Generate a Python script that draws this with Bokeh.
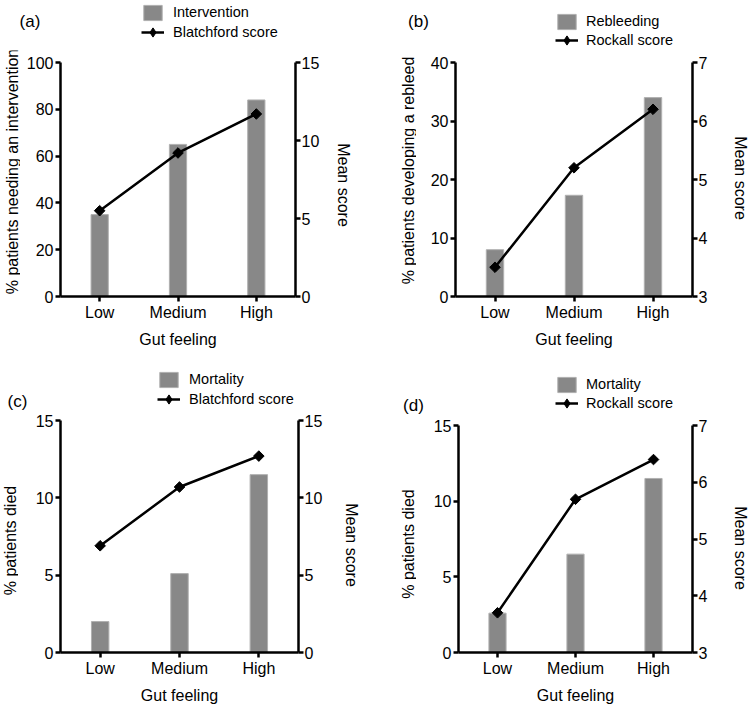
import numpy as np
from bokeh.plotting import figure
from bokeh.models import (Range1d, LinearAxis, FixedTicker, Legend, LegendItem, Label)
from bokeh.layouts import column, row
from bokeh.embed import file_html
from bokeh.resources import INLINE

# ---- data ----
categories = ["Low", "Medium", "High"]
intervention_pct = [35, 65, 84]
blatchford_a = [5.5, 9.2, 11.7]
rebleed_pct = [8, 17.3, 34]
rockall_b = [3.5, 5.2, 6.2]
mortality_c = [2.0, 5.1, 11.5]
blatchford_c = [6.9, 10.7, 12.7]
mortality_d = [2.6, 6.5, 11.5]
rockall_d = [3.7, 5.7, 6.4]

ticks_a_left = [0, 20, 40, 60, 80, 100]
ticks_blatchford = [0, 5, 10, 15]
ticks_b_left = [0, 10, 20, 30, 40]
ticks_rockall = [3, 4, 5, 6, 7]
ticks_died = [0, 5, 10, 15]

FONT = "Liberation Sans"
BAR = "#888888"
BAR_EDGE = "#b0b0b0"
PANEL_W = 374


def blank(width, height):
    f = figure(width=width, height=height, x_range=Range1d(0, width),
               y_range=Range1d(0, height), x_axis_location=None, y_axis_location=None,
               min_border=0, output_backend="svg", toolbar_location=None,
               frame_align=False)
    f.outline_line_color = None
    f.grid.visible = False
    return f


def style_axis(ax, label_standoff, tick_standoff=2, ticks=None):
    if ticks is not None:
        ax.ticker = FixedTicker(ticks=ticks)
    ax.axis_line_width = 2.5
    ax.axis_line_color = "black"
    ax.major_tick_line_width = 2.5
    ax.major_tick_line_color = "black"
    ax.major_tick_in = 0
    ax.major_tick_out = 5
    ax.minor_tick_line_color = None
    ax.major_label_text_font = FONT
    ax.major_label_text_font_size = "16px"
    ax.major_label_text_color = "black"
    ax.major_label_standoff = tick_standoff
    ax.axis_label_text_font = FONT
    ax.axis_label_text_font_size = "16px"
    ax.axis_label_text_font_style = "normal"
    ax.axis_label_text_color = "black"
    ax.axis_label_standoff = label_standoff


def header(letter, height, bars, scores, bar_name, score_name,
           leg_x, row1_y, row2_y, standoff, letter_xy):
    h = blank(PANEL_W, height)
    idx = list(range(len(categories)))
    # hidden copies of the series: they only supply the legend swatches
    vb = h.vbar(x=idx, top=bars, width=0.22, fill_color=BAR, line_color=BAR_EDGE,
                line_width=1, visible=False)
    ln = h.line(x=idx, y=scores, line_color="black", line_width=2.5, visible=False)
    sc = h.scatter(x=idx, y=scores, marker="diamond", size=9,
                   fill_color="black", line_color="black", visible=False)
    common = dict(padding=0, margin=0, spacing=0, label_height=20,
                  label_standoff=standoff, border_line_color=None,
                  background_fill_alpha=0, inactive_fill_alpha=0,
                  label_text_font=FONT, label_text_font_size="14.5px",
                  label_text_color="black")
    h.add_layout(Legend(items=[LegendItem(label=bar_name, renderers=[vb])],
                        location=(leg_x, row1_y), glyph_width=23, glyph_height=19, **common))
    h.add_layout(Legend(items=[LegendItem(label=score_name, renderers=[ln, sc])],
                        location=(leg_x, row2_y), glyph_width=23, glyph_height=26, **common))
    h.add_layout(Label(x=letter_xy[0], y=letter_xy[1], x_units="screen", y_units="screen",
                       text=letter, text_font=FONT, text_font_size="17px",
                       text_align="center", text_baseline="middle", text_color="black"))
    return h


def side_title(width, height, text, x, y, angle):
    f = blank(width, height)
    f.add_layout(Label(x=x, y=y, x_units="screen", y_units="screen", text=text,
                       angle=angle, text_font=FONT, text_font_size="16px",
                       text_align="center", text_baseline="middle", text_color="black"))
    return f


def main(width, height, borders, left_rng, left_ticks, right_rng, right_ticks, bars, scores):
    bl, br, bt, bb = borders
    p = figure(x_range=categories, y_range=Range1d(*left_rng), width=width, height=height,
               output_backend="svg", toolbar_location=None, frame_align=False,
               min_border_left=bl, min_border_right=br, min_border_top=bt,
               min_border_bottom=bb)
    p.outline_line_color = None
    p.xgrid.grid_line_color = None
    p.ygrid.grid_line_color = None
    p.extra_y_ranges = {"score": Range1d(*right_rng)}

    p.vbar(x=categories, top=bars, width=0.22, fill_color=BAR,
           line_color=BAR_EDGE, line_width=1)
    p.line(x=categories, y=scores, y_range_name="score",
           line_color="black", line_width=2.5)
    p.scatter(x=categories, y=scores, y_range_name="score", marker="square",
              angle=np.pi / 4, size=7.5, fill_color="black", line_color="black")

    style_axis(p.yaxis[0], 0, ticks=left_ticks)
    style_axis(p.xaxis[0], 7, tick_standoff=2)
    p.xaxis[0].axis_label = "Gut feeling"

    rax = LinearAxis(y_range_name="score")
    style_axis(rax, 0, tick_standoff=1, ticks=right_ticks)
    p.add_layout(rax, "right")
    return p


def build(letter, H, main_h, lw, mw, rw, borders, left_rng, left_ticks, left_label,
          right_rng, right_ticks, bars, scores, bar_name, score_name,
          leg_x, row1_y, row2_y, standoff, letter_xy, left_xy, right_xy):
    hd = header(letter, H, bars, scores, bar_name, score_name,
                leg_x, row1_y, row2_y, standoff, letter_xy)
    lt = side_title(lw, main_h, left_label, left_xy[0], left_xy[1], np.pi / 2)
    mp = main(mw, main_h, borders, left_rng, left_ticks, right_rng, right_ticks, bars, scores)
    rt = side_title(rw, main_h, "Mean score", right_xy[0], right_xy[1], -np.pi / 2)
    return column(hd, row(lt, mp, rt))


pan_a = build("(a)", 50, 300, 20, 310, 44, (40, 35, 12, 54), (0, 100), ticks_a_left,
              "% patients needing an intervention", (0, 15), ticks_blatchford,
              intervention_pct, blatchford_a, "Intervention", "Blatchford score",
              141, 28, 5, 9, (29.5, 29.5), (12, 179), (12.5, 165.5))
pan_b = build("(b)", 50, 300, 42, 304, 28, (39, 28, 12, 52), (0, 40), ticks_b_left,
              "% patients developing a rebleed", (3, 7), ticks_rockall,
              rebleed_pct, rockall_b, "Rebleeding", "Rockall score",
              181, 19, -3, 8, (44, 29), (34, 180), (20, 172.5))
pan_c = build("(c)", 62, 294, 18, 317, 39, (42, 37, 8, 50), (0, 15), ticks_died,
              "% patients died", (0, 15), ticks_blatchford,
              mortality_c, blatchford_c, "Mortality", "Blatchford score",
              157, 23, 0, 9, (17, 11), (10, 166), (15.5, 161.5))
pan_d = build("(d)", 66, 290, 42, 304, 28, (42, 28, 9, 50), (0, 15), ticks_died,
              "% patients died", (3, 7), ticks_rockall,
              mortality_d, rockall_d, "Mortality", "Rockall score",
              181, 22, 0, 8, (39, 11), (34, 162.5), (20, 158.5))

page = column(row(pan_a, pan_b), row(pan_c, pan_d))

open("out.html", "w").write(file_html(page, INLINE))
